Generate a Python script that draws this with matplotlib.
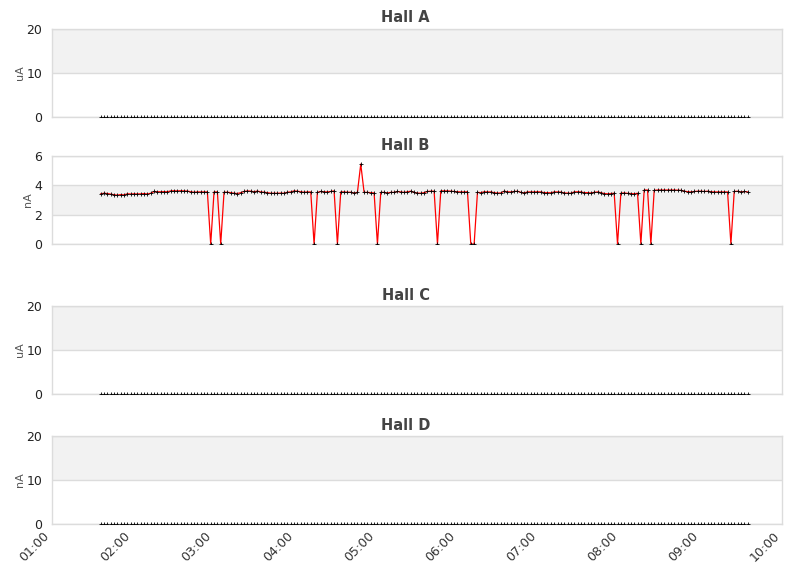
import numpy as np
import pandas as pd
import matplotlib
matplotlib.use('Agg')
import matplotlib.pyplot as plt
import matplotlib.dates as mdates

# Hall B beam current (nA), one reading every ~148 s from 01:36
hall_b_values = [
    3.42, 3.46, 3.44, 3.40, 3.36, 3.33, 3.37, 3.35, 3.42, 3.41,
    3.42, 3.41, 3.42, 3.44, 3.41, 3.46, 3.58, 3.56, 3.56, 3.57,
    3.56, 3.62, 3.63, 3.62, 3.63, 3.62, 3.61, 3.56, 3.53, 3.55,
    3.55, 3.55, 3.55, 0.00, 3.55, 3.55, 0.00, 3.53, 3.53, 3.50,
    3.46, 3.44, 3.50, 3.58, 3.62, 3.60, 3.56, 3.61, 3.55, 3.53,
    3.50, 3.46, 3.46, 3.46, 3.47, 3.46, 3.53, 3.55, 3.62, 3.60,
    3.56, 3.53, 3.55, 3.55, 0.00, 3.52, 3.58, 3.56, 3.55, 3.58,
    3.62, 0.00, 3.55, 3.55, 3.53, 3.53, 3.47, 3.52, 5.45, 3.52,
    3.52, 3.50, 3.48, 0.00, 3.52, 3.52, 3.48, 3.52, 3.52, 3.58,
    3.55, 3.52, 3.56, 3.60, 3.52, 3.47, 3.46, 3.50, 3.58, 3.60,
    3.60, 0.00, 3.62, 3.62, 3.62, 3.60, 3.58, 3.56, 3.55, 3.55,
    3.56, 0.00, 0.00, 3.52, 3.50, 3.56, 3.55, 3.55, 3.50, 3.47,
    3.48, 3.60, 3.56, 3.55, 3.58, 3.60, 3.52, 3.48, 3.55, 3.55,
    3.55, 3.56, 3.55, 3.50, 3.50, 3.49, 3.55, 3.55, 3.54, 3.48,
    3.47, 3.46, 3.55, 3.56, 3.55, 3.50, 3.50, 3.48, 3.52, 3.55,
    3.50, 3.44, 3.42, 3.44, 3.46, 0.00, 3.46, 3.48, 3.45, 3.44,
    3.42, 3.46, 0.00, 3.68, 3.68, 0.00, 3.66, 3.68, 3.68, 3.68,
    3.68, 3.68, 3.68, 3.67, 3.66, 3.60, 3.57, 3.55, 3.58, 3.60,
    3.60, 3.58, 3.60, 3.56, 3.55, 3.55, 3.55, 3.55, 3.55, 0.00,
    3.58, 3.60, 3.55, 3.58, 3.55,
]
n = len(hall_b_values)
times = pd.date_range('2024-01-01 01:36:00', periods=n, freq='148s')

# other halls read zero the whole shift
hall_a_values = [0.0] * n
hall_c_values = [0.0] * n
hall_d_values = [0.0] * n

halls = ['Hall A', 'Hall B', 'Hall C', 'Hall D']
units = ['uA', 'nA', 'uA', 'nA']
yticks = [[0, 10, 20], [0, 2, 4, 6], [0, 10, 20], [0, 10, 20]]
series = [hall_a_values, hall_b_values, hall_c_values, hall_d_values]

# axes boxes in figure pixels (top, bottom)
W, H = 811, 578
boxes = [(29, 117), (156, 244), (306, 394), (436, 524)]
left_px, right_px = 52, 782

fig = plt.figure(figsize=(W / 100, H / 100), dpi=100, facecolor='white')

x0 = pd.Timestamp('2024-01-01 01:00')
x1 = pd.Timestamp('2024-01-01 10:00')

grid_col = '#dcdcdc'
band_col = '#f2f2f2'

for k, (name, unit, ticks, vals, (top, bot)) in enumerate(zip(halls, units, yticks, series, boxes)):
    ax = fig.add_axes([left_px / W, 1 - bot / H, (right_px - left_px) / W, (bot - top) / H])
    ax.set_xlim(x0, x1)
    ax.set_ylim(ticks[0], ticks[-1])

    # alternating bands
    for j in range(len(ticks) - 1):
        if j % 2 == 1:
            ax.axhspan(ticks[j], ticks[j + 1], color=band_col, lw=0, zorder=0)
    for t in ticks:
        ax.axhline(t, color=grid_col, lw=1, zorder=1)

    for sp in ax.spines.values():
        sp.set_color(grid_col)
        sp.set_linewidth(1)

    ax.set_yticks(ticks)
    ax.set_yticklabels([str(t) for t in ticks], fontsize=9, color='#222222')
    ax.tick_params(axis='y', length=0, pad=7)
    ax.set_ylabel(unit, fontsize=8, color='#555555', labelpad=1)

    if any(v != 0 for v in vals):
        ax.plot(times, vals, color='red', lw=0.9, zorder=3)
    ax.plot(times, vals, ls='none', marker='+', ms=2.6, mew=0.6, color='black', zorder=4)

    ax.xaxis.set_major_locator(mdates.HourLocator())
    ax.xaxis.set_major_formatter(mdates.DateFormatter('%H:%M'))
    if k < 3:
        ax.tick_params(axis='x', length=0, labelbottom=False)
    else:
        ax.tick_params(axis='x', length=0, pad=4, labelsize=9, labelcolor='#333333')
        for lab in ax.get_xticklabels():
            lab.set_rotation(45)
            lab.set_ha('right')

    fig.text(0.5, 1 - (top - 11) / H, name, ha='center', va='center',
             fontsize=10.5, fontweight='bold', color='#444444')

fig.savefig('out.png', dpi=100, facecolor='white')
